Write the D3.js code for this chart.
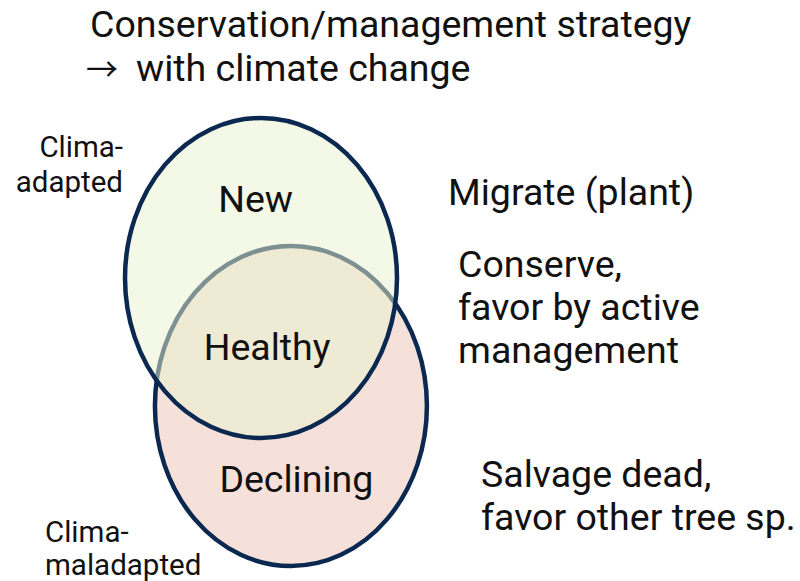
<!DOCTYPE html>
<html lang="en">
<head>
  <meta charset="utf-8">
  <title>Conservation strategy Venn</title>
  <script src="https://d3js.org/d3.v7.min.js"></script>
  <style>
    body { margin: 0; background: #fff; }
    text { font-family: Roboto, "Open Sans", sans-serif; fill: #111; }
  </style>
</head>
<body>
  <div id="chart"></div>

  <script type="text/javascript">
    "use strict"

    // sets (ellipse centres in ellipse-radius units)
    var conjuntos = ["Clima-adapted", "Clima-maladapted"];
    var centroX = [0, 0.22];
    var centroY = [0, 0.8];
    var raio = [1, 1];

    // region labels and strategies
    var regioes = ["New", "Healthy", "Declining"];
    var regiaoX = [-0.04, 0.045, 0.26];
    var regiaoY = [-0.41, 0.51, 1.34];
    var estrategias = [
      ["Migrate (plant)"],
      ["Conserve,", "favor by active", "management"],
      ["Salvage dead,", "favor other tree sp."]
    ];
    var titulo = ["Conservation/management strategy", "with climate change"];

    var largura = 800, altura = 581;

    var svg = d3.select('#chart')
      .append('svg')
        .attr('width', largura)
        .attr('height', altura);

    var x = d3.scaleLinear().domain([-1, 1]).range([125, 397]);
    var y = d3.scaleLinear().domain([-1, 1]).range([118, 438]);

    var navy = "#0a2850";

    // bottom set first (opaque), top set over it (translucent)
    svg.append("ellipse")
      .attr("cx", x(centroX[1]))
      .attr("cy", y(centroY[1]))
      .attr("rx", x(raio[1]) - x(0))
      .attr("ry", y(raio[1]) - y(0))
      .attr("fill", "#f5e1da")
      .attr("stroke", navy)
      .attr("stroke-width", 4.5);

    svg.append("ellipse")
      .attr("cx", x(centroX[0]))
      .attr("cy", y(centroY[0]))
      .attr("rx", x(raio[0]) - x(0))
      .attr("ry", y(raio[0]) - y(0))
      .attr("fill", "rgb(233,241,207)")
      .attr("fill-opacity", 0.52)
      .attr("stroke", navy)
      .attr("stroke-width", 4.5);

    svg.selectAll(".regiao")
      .data(regioes)
      .enter().append("text")
        .attr("class", "regiao")
        .attr("x", function(d, i) { return x(regiaoX[i]); })
        .attr("y", function(d, i) { return y(regiaoY[i]); })
        .attr("text-anchor", "middle")
        .style("font-size", "37.5px")
        .text(function(d) { return d; });

    // set labels
    var rotulo1 = conjuntos[0].split("-");
    svg.append("text")
        .attr("x", 123).attr("y", 157)
        .attr("text-anchor", "end")
        .style("font-size", "29.5px")
      .selectAll("tspan")
      .data([rotulo1[0] + "-", rotulo1[1]])
      .enter().append("tspan")
        .attr("x", 123)
        .attr("dy", function(d, i) { return i ? 35 : 0; })
        .text(function(d) { return d; });

    var rotulo2 = conjuntos[1].split("-");
    svg.append("text")
        .attr("x", 45).attr("y", 542)
        .style("font-size", "29.5px")
      .selectAll("tspan")
      .data([rotulo2[0] + "-", rotulo2[1]])
      .enter().append("tspan")
        .attr("x", 45)
        .attr("dy", function(d, i) { return i ? 33 : 0; })
        .text(function(d) { return d; });

    // strategies
    var estrX = [448, 458, 481];
    var estrY = [205, 277, 487];
    var estrDy = [0, 43, 43];
    estrategias.forEach(function(linhas, k) {
      svg.append("text")
          .attr("y", estrY[k])
          .style("font-size", "37.5px")
        .selectAll("tspan")
        .data(linhas)
        .enter().append("tspan")
          .attr("x", estrX[k])
          .attr("dy", function(d, i) { return i ? estrDy[k] : 0; })
          .text(function(d) { return d; });
    });

    // title
    svg.append("text")
        .attr("x", 90).attr("y", 37)
        .style("font-size", "37.5px")
        .text(titulo[0]);

    var linha2 = svg.append("text")
        .attr("x", 86).attr("y", 81)
        .style("font-size", "37.5px");
    linha2.append("tspan")
        .style("font-family", "'Noto Sans CJK JP', 'DejaVu Sans', sans-serif")
        .style("font-size", "32px")
        .text("\u2192");
    linha2.append("tspan")
        .attr("x", 136)
        .text(titulo[1]);
  </script>
</body>
</html>
